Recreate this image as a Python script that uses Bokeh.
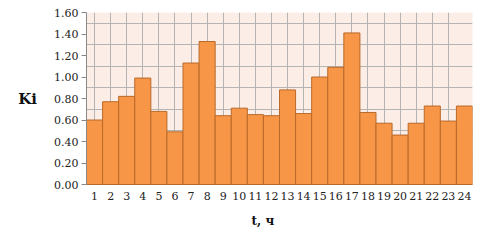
from bokeh.plotting import figure
from bokeh.models import FixedTicker, NumeralTickFormatter, Range1d, Title
from bokeh.embed import file_html
from bokeh.resources import INLINE

hours = [str(i) for i in range(1, 25)]
ki = [0.60, 0.77, 0.82, 0.99, 0.68, 0.49, 1.13, 1.33, 0.64, 0.71, 0.65, 0.64,
      0.88, 0.66, 1.00, 1.09, 1.41, 0.67, 0.57, 0.46, 0.57, 0.73, 0.59, 0.73]
y_ticks = [0.0, 0.2, 0.4, 0.6, 0.8, 1.0, 1.2, 1.4, 1.6]
grid_lines = [0.1, 0.3, 0.5, 0.7, 0.9, 1.1, 1.3, 1.5]

FONT = "DejaVu Serif"

p = figure(width=481, height=247, x_range=hours, y_range=Range1d(0, 1.6),
           output_backend="svg", toolbar_location=None,
           min_border_left=86, min_border_right=9, min_border_top=12, min_border_bottom=63)
p.x_range.range_padding = 0
p.background_fill_color = "#FCEEE7"
p.border_fill_color = "white"
p.outline_line_color = None

p.vbar(x=hours, top=ki, width=1.0, bottom=0, fill_color="#F79646",
       line_color="#B9692A", line_width=1)

p.ygrid.ticker = FixedTicker(ticks=grid_lines)
p.grid.grid_line_color = "#B4B4B4"
p.grid.grid_line_width = 1

yax = p.yaxis[0]
yax.ticker = FixedTicker(ticks=y_ticks)
yax.formatter = NumeralTickFormatter(format="0.00")
yax.major_label_text_font = FONT
yax.major_label_text_font_size = "11px"
yax.major_label_text_color = "#222222"
yax.axis_line_color = "#888888"
yax.major_tick_line_color = "#888888"
yax.major_tick_out = 5
yax.major_tick_in = 0
yax.minor_tick_line_color = None
yax.major_label_standoff = 3
yax.axis_label = "Ki"
yax.axis_label_orientation = "horizontal"
yax.axis_label_text_font = FONT
yax.axis_label_text_font_style = "bold"
yax.axis_label_text_font_size = "15px"
yax.axis_label_text_color = "#111111"
yax.axis_label_standoff = 14

xax = p.xaxis[0]
xax.major_label_text_font = FONT
xax.major_label_text_font_size = "11px"
xax.major_label_text_color = "#222222"
xax.axis_line_color = "#B9692A"
xax.major_tick_line_color = None
xax.major_tick_out = 0
xax.major_tick_in = 0
xax.major_label_standoff = 7

p.add_layout(Title(text="t, ч", align="left", offset=165, standoff=18,
                   text_font=FONT, text_font_style="bold", text_font_size="12px",
                   text_color="#111111"), "below")

open("out.html", "w").write(file_html(p, INLINE))
